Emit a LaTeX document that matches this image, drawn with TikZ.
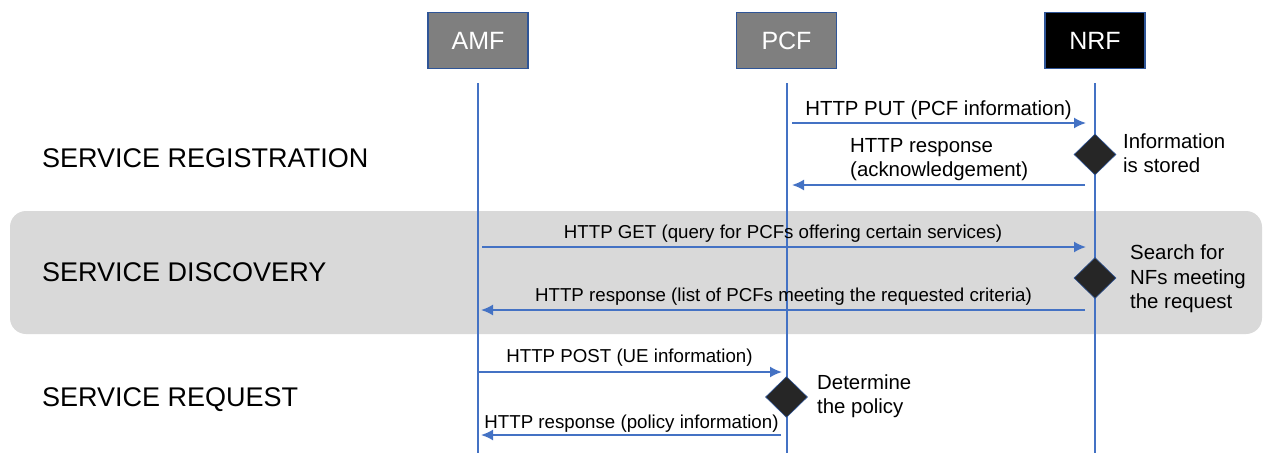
\documentclass[tikz,border=0pt]{standalone}
\usepackage{fontspec}
\setmainfont{Liberation Sans}
\usetikzlibrary{arrows.meta,shapes.geometric}
\definecolor{lifeblue}{HTML}{4472C4}
\definecolor{boxborder}{HTML}{2F5597}
\definecolor{bandgray}{HTML}{D9D9D9}
\definecolor{boxgray}{HTML}{7F7F7F}
\definecolor{diafill}{HTML}{262626}
\begin{document}
\begin{tikzpicture}[x=1pt,y=-1pt,
  actor/.style={draw=boxborder, line width=1.5pt, minimum width=100pt, minimum height=56pt, inner sep=0, text=white, font=\fontsize{25}{28}\selectfont},
  lifeline/.style={draw=lifeblue, line width=1.1pt},
  msg/.style={draw=lifeblue, line width=1.8pt, -{Latex[length=12pt,width=11pt]}},
  lbl/.style={inner sep=0, anchor=base, font=\fontsize{18.7}{24}\selectfont},
  lblbig/.style={inner sep=0, anchor=base, font=\fontsize{20.4}{24}\selectfont},
  sect/.style={inner sep=0, anchor=base west, font=\fontsize{27}{30}\selectfont},
  decision/.style={diamond, draw=boxborder, fill=diafill, line width=0.6pt, inner sep=0, minimum width=42pt, minimum height=41pt},
  note/.style={inner sep=0, anchor=west, align=left, font=\fontsize{20.4}{24.5}\selectfont}
]
\useasboundingbox (0,0) rectangle (1266,453);
% discovery band
\fill[bandgray, rounded corners=16pt] (10,211) rectangle (1262,334);

% actors
\node[actor, fill=boxgray] (amf) at (478,40.5) {AMF};
\node[actor, fill=boxgray] (pcf) at (786.5,40.5) {PCF};
\node[actor, fill=black] (nrf) at (1095,40.5) {NRF};

% lifelines
\coordinate (amftop) at (478,83);  \coordinate (amfbot) at (478,453);
\coordinate (pcftop) at (787,83);  \coordinate (pcfbot) at (787,453);
\coordinate (nrftop) at (1095,83); \coordinate (nrfbot) at (1095,453);
\draw[lifeline] (amftop) -- (amfbot);
\draw[lifeline] (pcftop) -- (pcfbot);
\draw[lifeline] (nrftop) -- (nrfbot);

% section labels
\node[sect] (s1) at (42,167.5) {SERVICE REGISTRATION};
\node[sect] (s2) at (42,281.5) {SERVICE DISCOVERY};
\node[sect] (s3) at (42,406.5) {SERVICE REQUEST};

% message end points
\coordinate (m1s) at (792,123);  \coordinate (m1e) at (1086,123);
\coordinate (m2s) at (1085,185); \coordinate (m2e) at (792,185);
\coordinate (m3s) at (482,247);  \coordinate (m3e) at (1086,247);
\coordinate (m4s) at (1085,310); \coordinate (m4e) at (481,310);
\coordinate (m5s) at (478,372);  \coordinate (m5e) at (782,372);
\coordinate (m6s) at (781,435);  \coordinate (m6e) at (481,435);

\draw[msg] (m1s) -- (m1e);
\draw[msg] (m2s) -- (m2e);
\draw[msg] (m3s) -- (m3e);
\draw[msg] (m4s) -- (m4e);
\draw[msg] (m5s) -- (m5e);
\draw[msg] (m6s) -- (m6e);

% message labels
\node[lblbig] (t1) at (938.5,115) {HTTP PUT (PCF information)};
\node[note] (t2) at (850,159.5) {HTTP response\\(acknowledgement)};
\node[lbl] (t3) at (783,238) {HTTP GET (query for PCFs offering certain services)};
\node[lbl] (t4) at (783.5,301) {HTTP response (list of PCFs meeting the requested criteria)};
\node[lbl] (t5) at (629.5,362) {HTTP POST (UE information)};
\node[lbl] (t6) at (631.5,428) {HTTP response (policy information)};

% decisions
\node[decision] (d1) at (1095,154.5) {};
\node[decision] (d2) at (1095,278) {};
\node[decision] (d3) at (786.5,397) {};

\node[note] (n1) at (1123,153) {Information\\is stored};
\node[note] (n2) at (1130,279) {Search for\\NFs meeting\\the request};
\node[note] (n3) at (817,396) {Determine\\the policy};
\end{tikzpicture}
\end{document}
